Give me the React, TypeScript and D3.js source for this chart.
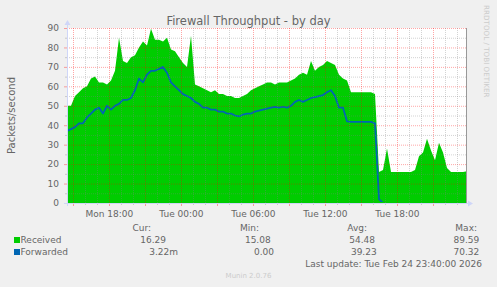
import React from "react";
import * as d3 from "d3";

const title = "Firewall Throughput - by day";
const yLabel = "Packets/second";
const seriesNames = ["Received", "Forwarded"];
const seriesColors = ["#00CC00", "#0066B3"];

// samples every 20 minutes starting Mon Feb 23 2026 14:28
const startTime = new Date(2026, 1, 23, 14, 28);
const endTime = new Date(2026, 1, 24, 23, 48);
const stepMinutes = 20;

const received = [
  50, 50, 55, 57, 59, 60, 64, 65, 62, 62, 61, 63, 68, 85, 73, 72, 75, 76, 80, 83,
  81, 89.6, 84, 84, 83, 85, 79, 78, 75, 72, 70, 86, 61, 60, 59, 58, 57, 58, 56, 56,
  55, 55, 54, 54, 55, 56, 58, 59, 60, 61, 62, 62, 61, 62, 62, 62, 63, 64, 66, 67,
  66, 73, 68, 70, 71, 73, 72, 71, 66, 64, 63, 57, 57, 57, 57, 57, 57, 56, 16, 17,
  28, 16, 16, 16, 16, 16, 16, 17, 24, 26, 33, 27, 22, 31, 26, 18, 16, 16, 16, 16,
  16.29,
];

const forwarded = [
  37, 38, 39, 41, 41, 44, 46, 48, 49, 46, 50, 48, 50, 51, 53, 53, 54, 58, 64, 62,
  66, 68, 68, 69, 70, 67, 62, 60, 58, 56, 55, 54, 52, 51, 49, 49, 48, 48, 47, 47,
  46, 46, 45, 44.5, 45.5, 46, 46, 47, 47.5, 48, 48.5, 49, 49.4, 49, 49.5, 49, 50, 52, 53, 52,
  53, 54, 54.5, 55, 55.5, 57, 58, 55, 49, 49, 42, 41.7, 41.7, 41.7, 41.7, 41.7, 41.7, 41, 2, 0.003,
  0.003, 0.003, 0.003, 0.003, 0.003, 0.003, 0.003, 0.003, 0.003, 0.003, 0.003, 0.003, 0.003, 0.003, 0.003, 0.003, 0.003, 0.003, 0.003, 0.003,
  0.00322,
];

const legendHeaders = ["Cur:", "Min:", "Avg:", "Max:"];
const receivedStats = ["16.29", "15.08", "54.48", "89.59"];
const forwardedStats = ["3.22m", "0.00", "39.23", "70.32"];
const lastUpdate = "Last update: Tue Feb 24 23:40:00 2026";
const watermark = "RRDTOOL / TOBI OETIKER";
const footer = "Munin 2.0.76";

const W = 497;
const H = 287;
const FONT = "'DejaVu Sans', sans-serif";
const TXT = "#666666";
const AXIS = "#CFD6F8";
const MGRID = "rgba(255,0,0,0.35)";
const GRID = "rgba(128,128,128,0.35)";

export default function App() {
  const x = d3.scaleTime().domain([startTime, endTime]).range([67, 467]);
  const y = d3.scaleLinear().domain([0, 90]).range([203, 28]);
  const times = received.map((_, i) => new Date(startTime.getTime() + i * stepMinutes * 60000));

  const area = d3
    .area<number>()
    .x((_, i) => x(times[i]))
    .y0(y(0))
    .y1((d) => y(d));
  const line = d3
    .line<number>()
    .x((_, i) => x(times[i]))
    .y((d) => y(d));

  const hours = d3.timeHour.range(d3.timeHour.ceil(startTime), endTime);
  const fmt = d3.timeFormat("%a %H:%M");
  const yMinor = d3.range(0, 91, 5);

  const [x0, x1] = x.range();
  const [yb, yt] = y.range();

  const statEnds = [
    [166, 270.7, 375, 479.3],
    [178, 274, 376.7, 479.3],
  ];
  const headerEnds = [151, 259, 367, 477];

  return (
    <svg width={W} height={H} style={{ position: "absolute", left: 0, top: 0 }}>
      <defs>
        <clipPath id="lineClip">
          <rect x={x0} y={yt - 5} width={x1 - x0} height={yb - yt + 4} />
        </clipPath>
      </defs>
      <rect x={0} y={0} width={W} height={H} fill="#F0F0F0" />
      <rect x={x0} y={yt} width={x1 - x0} height={yb - yt} fill="#FFFFFF" />

      <path d={area(received) || ""} fill={seriesColors[0]} />
      <path
        d={line(forwarded) || ""}
        fill="none"
        stroke={seriesColors[1]}
        strokeWidth={1.8}
        strokeLinejoin="round"
        clipPath="url(#lineClip)"
      />

      {/* grid */}
      {yMinor.map((v) => {
        const major = v % 10 === 0;
        return (
          <g key={"yg" + v}>
            {v > 0 && (
              <line x1={x0} x2={x1} y1={y(v) + 0.5} y2={y(v) + 0.5} stroke={major ? MGRID : GRID} strokeDasharray="1,1" />
            )}
            <line x1={x0 - (major ? 3 : 2)} x2={x0} y1={y(v) + 0.5} y2={y(v) + 0.5} stroke={major ? MGRID : GRID} />
          </g>
        );
      })}
      {hours.map((h) => {
        const major = h.getHours() % 3 === 0;
        const px = Math.round(x(h)) + 0.5;
        return (
          <g key={"xg" + h.getTime()}>
            <line x1={px} x2={px} y1={yt} y2={yb} stroke={major ? MGRID : GRID} strokeDasharray="1,1" />
            <line x1={px} x2={px} y1={yb} y2={yb + (major ? 3 : 2)} stroke={major ? MGRID : GRID} />
          </g>
        );
      })}

      {/* axes */}
      <line x1={x0 - 3} x2={x1 + 3} y1={yb + 0.5} y2={yb + 0.5} stroke={AXIS} />
      <line x1={x0 + 0.5} x2={x0 + 0.5} y1={yb + 3} y2={yt - 4} stroke={AXIS} />
      <path d={`M${x1 + 1},${yb - 2.5} L${x1 + 6},${yb + 0.5} L${x1 + 1},${yb + 3.5} Z`} fill={AXIS} />
      <path d={`M${x0 - 2.5},${yt - 3} L${x0 + 0.5},${yt - 8} L${x0 + 3.5},${yt - 3} Z`} fill={AXIS} />
      <line x1={x1 - 0.5} x2={x1 - 0.5} y1={yt} y2={yb} stroke="#999999" />

      {/* y tick labels */}
      {d3.range(0, 91, 10).map((v) => (
        <text key={"yl" + v} x={59} y={y(v) + 3.3} textAnchor="end" fontFamily={FONT} fontSize={9} fill={TXT}>
          {v}
        </text>
      ))}
      {/* x tick labels */}
      {hours
        .filter((h) => h.getHours() % 6 === 0)
        .map((h) => (
          <text key={"xl" + h.getTime()} x={x(h)} y={217} textAnchor="middle" fontFamily={FONT} fontSize={9} fill={TXT}>
            {fmt(h)}
          </text>
        ))}

      <text x={248.5} y={25} textAnchor="middle" fontFamily={FONT} fontSize={11.5} fill={TXT}>
        {title}
      </text>
      <text
        transform={`translate(15,${(yt + yb) / 2}) rotate(-90)`}
        textAnchor="middle"
        fontFamily={FONT}
        fontSize={10}
        fill={TXT}
      >
        {yLabel}
      </text>
      <text transform="translate(484,5) rotate(90)" fontFamily={FONT} fontSize={7.2} fill="#CCCCCC">
        {watermark}
      </text>

      {/* legend */}
      {legendHeaders.map((h, i) => (
        <text key={"lh" + i} x={headerEnds[i]} y={231} textAnchor="end" fontFamily={FONT} fontSize={9} fill={TXT}>
          {h}
        </text>
      ))}
      {[receivedStats, forwardedStats].map((row, r) => (
        <g key={"row" + r}>
          <rect x={14} y={237 + r * 12} width={6} height={6} fill={seriesColors[r]} />
          <text x={20.5} y={243 + r * 12} fontFamily={FONT} fontSize={9} fill={TXT}>
            {seriesNames[r]}
          </text>
          {row.map((v, i) => (
            <text key={i} x={statEnds[r][i]} y={243 + r * 12} textAnchor="end" fontFamily={FONT} fontSize={9} fill={TXT}>
              {v}
            </text>
          ))}
        </g>
      ))}
      <text x={482} y={267} textAnchor="end" fontFamily={FONT} fontSize={9} fill={TXT}>
        {lastUpdate}
      </text>
      <text x={248.5} y={278} textAnchor="middle" fontFamily={FONT} fontSize={7} fill="#CCCCCC">
        {footer}
      </text>
    </svg>
  );
}
